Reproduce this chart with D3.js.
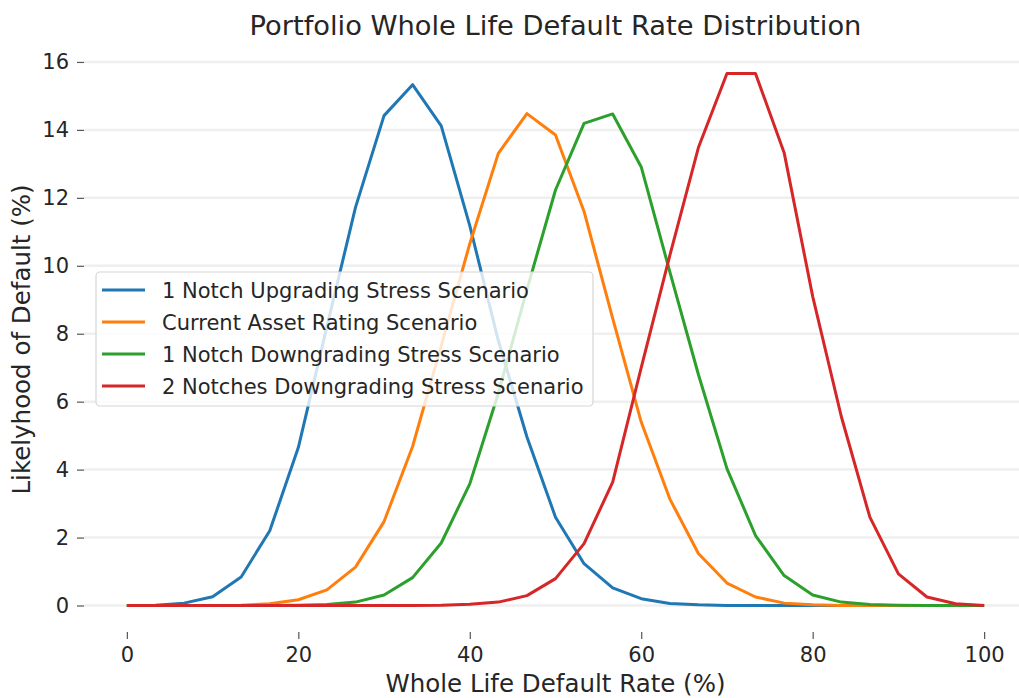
<!DOCTYPE html>
<html>
<head>
<meta charset="utf-8">
<script src="https://cdn.jsdelivr.net/npm/d3@7"></script>
<style>
  body { margin: 0; background: #fff; }
  svg text { font-family: "DejaVu Sans", sans-serif; fill: #262626; }
  .tick text { font-size: 21px; }
  .tick line { stroke: #555; stroke-width: 1.2; }
</style>
</head>
<body>
<svg id="chart" width="1019" height="698"></svg>
<script>
// default rate grid (%)
var rates = [0, 3.33, 6.67, 10, 13.33, 16.67, 20, 23.33, 26.67, 30, 33.33, 36.67, 40, 43.33, 46.67, 50,
    53.33, 56.67, 60, 63.33, 66.67, 70, 73.33, 76.67, 80, 83.33, 86.67, 90, 93.33, 96.67, 100];

var upgrade1 = [0, 0.01, 0.07, 0.26, 0.84, 2.2, 4.65, 8.2, 11.72, 14.42, 15.33, 14.12, 11.18, 7.8, 4.96, 2.6,
    1.23, 0.52, 0.2, 0.06, 0.02, 0, 0, 0, 0, 0, 0, 0, 0, 0, 0];
var current = [0, 0, 0, 0, 0.01, 0.05, 0.17, 0.46, 1.13, 2.47, 4.68, 7.65, 10.65, 13.31, 14.48, 13.85,
    11.6, 8.45, 5.4, 3.14, 1.53, 0.66, 0.25, 0.07, 0.02, 0, 0, 0, 0, 0, 0];
var downgrade1 = [0, 0, 0, 0, 0, 0, 0.01, 0.03, 0.1, 0.31, 0.82, 1.84, 3.58, 6.25, 9.3, 12.23,
    14.19, 14.47, 12.91, 9.83, 6.8, 4.03, 2.06, 0.88, 0.31, 0.1, 0.03, 0.01, 0, 0, 0];
var downgrade2 = [0, 0, 0, 0, 0, 0, 0, 0, 0, 0, 0, 0.01, 0.04, 0.1, 0.29, 0.79,
    1.82, 3.63, 7.0, 10.3, 13.48, 15.66, 15.66, 13.33, 9.1, 5.57, 2.6, 0.93, 0.25, 0.05, 0];

var seriesNames = ["1 Notch Upgrading Stress Scenario", "Current Asset Rating Scenario",
    "1 Notch Downgrading Stress Scenario", "2 Notches Downgrading Stress Scenario"];
var seriesColors = ["#1f77b4", "#ff7f0e", "#2ca02c", "#d62728"];
var xTicks = [0, 20, 40, 60, 80, 100];
var yTicks = [0, 2, 4, 6, 8, 10, 12, 14, 16];

var allSeries = [upgrade1, current, downgrade1, downgrade2];

var svg = d3.select("#chart");

// plot box (matplotlib-ish, 5% margins)
var plotLeft = 84, plotRight = 1027, plotTop = 47, plotBottom = 632;

var x = d3.scaleLinear().domain([-5, 105]).range([plotLeft, plotRight]);
var y = d3.scaleLinear().domain([-0.78, 16.44]).range([plotBottom, plotTop]);

// grid
svg.append("g").selectAll("line")
    .data(yTicks)
    .enter()
    .append("line")
    .attr("x1", plotLeft)
    .attr("x2", plotRight)
    .attr("y1", function(d) { return y(d); })
    .attr("y2", function(d) { return y(d); })
    .attr("stroke", "#efefef")
    .attr("stroke-width", 2.5);

// axes (no spines)
var yAxis = svg.append("g")
    .attr("transform", "translate(" + plotLeft + ",0)")
    .call(d3.axisLeft(y).tickValues(yTicks).tickSize(7).tickPadding(8));
yAxis.select(".domain").remove();

var xAxis = svg.append("g")
    .attr("transform", "translate(0," + plotBottom + ")")
    .call(d3.axisBottom(x).tickValues(xTicks).tickSize(7).tickPadding(8));
xAxis.select(".domain").remove();

// lines
var line = d3.line()
    .x(function(d, i) { return x(rates[i]); })
    .y(function(d) { return y(d); });

svg.append("g").selectAll("path")
    .data(allSeries)
    .enter()
    .append("path")
    .attr("d", function(d) { return line(d); })
    .attr("fill", "none")
    .attr("stroke", function(d, i) { return seriesColors[i]; })
    .attr("stroke-width", 3)
    .attr("stroke-linejoin", "round");

// labels
svg.append("text")
    .attr("x", (plotLeft + plotRight) / 2)
    .attr("y", 35)
    .attr("text-anchor", "middle")
    .attr("font-size", "27.3px")
    .text("Portfolio Whole Life Default Rate Distribution");

svg.append("text")
    .attr("x", (plotLeft + plotRight) / 2)
    .attr("y", 692)
    .attr("text-anchor", "middle")
    .attr("font-size", "24.5px")
    .text("Whole Life Default Rate (%)");

svg.append("text")
    .attr("transform", "translate(30," + (plotTop + plotBottom) / 2 + ") rotate(-90)")
    .attr("text-anchor", "middle")
    .attr("font-size", "24.5px")
    .text("Likelyhood of Default (%)");

// legend
var legend = svg.append("g");
legend.append("rect")
    .attr("x", 96)
    .attr("y", 272)
    .attr("width", 497)
    .attr("height", 134)
    .attr("rx", 4)
    .attr("fill", "#fff")
    .attr("fill-opacity", 0.8)
    .attr("stroke", "#d6d6d6")
    .attr("stroke-width", 1.2);

var rows = legend.selectAll(".row")
    .data(seriesNames)
    .enter()
    .append("g")
    .attr("class", "row")
    .attr("transform", function(d, i) { return "translate(0," + (290 + i * 32) + ")"; });

rows.append("line")
    .attr("x1", 102)
    .attr("x2", 145)
    .attr("stroke", function(d, i) { return seriesColors[i]; })
    .attr("stroke-width", 3);

rows.append("text")
    .attr("x", 162)
    .attr("y", 7.5)
    .attr("font-size", "21px")
    .text(function(d) { return d; });
</script>
</body>
</html>
